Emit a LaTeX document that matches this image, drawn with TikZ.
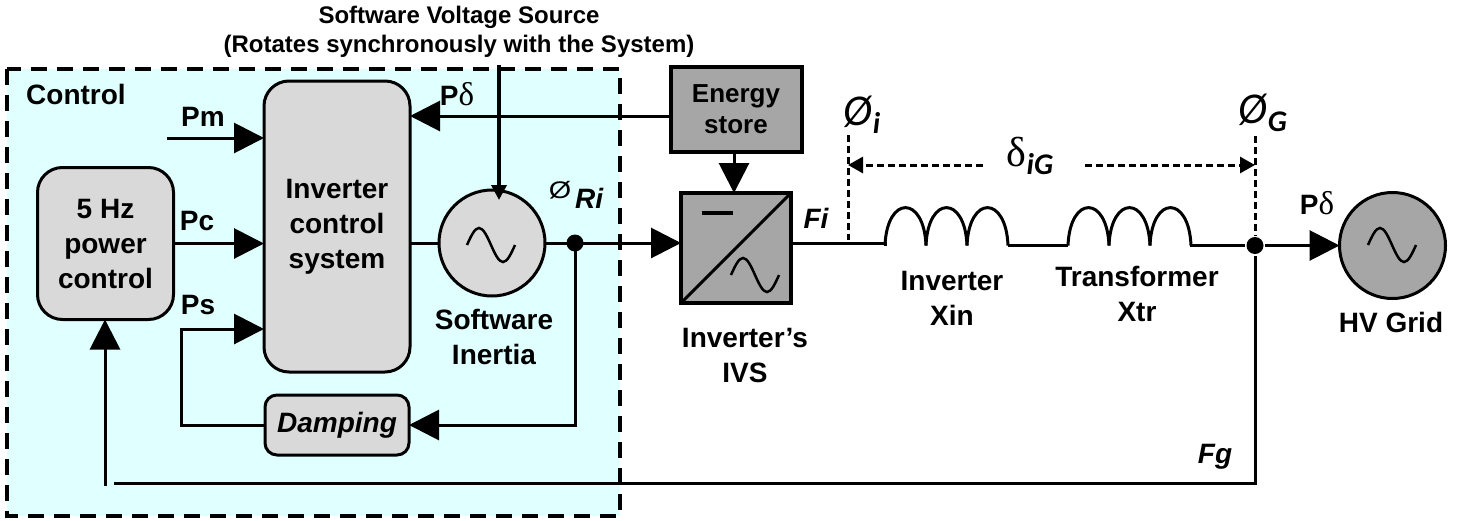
\documentclass[tikz,border=0pt]{standalone}
\usepackage{fontspec}
\usetikzlibrary{arrows.meta}
\setmainfont{Liberation Sans}
\newfontfamily\serifdelta{Liberation Serif}
\newfontfamily\carlito{Carlito}
\newcommand{\pdelta}{P{\serifdelta\fontsize{33}{33}\selectfont\mdseries δ}}
\newcommand{\angsub}[1]{{\carlito\fontsize{44}{44}\selectfont\itshape\mdseries Ø}\raisebox{-8pt}{\carlito\fontsize{30}{30}\selectfont\bfseries\itshape #1}}
\newcommand{\delsub}[1]{{\serifdelta\fontsize{42}{42}\selectfont\mdseries δ}\raisebox{-8pt}{\carlito\fontsize{30}{30}\selectfont\bfseries\itshape #1}}
\begin{document}
\begin{tikzpicture}[x=1pt,y=-1pt,line width=3pt,
        lbl/.style = {font=\fontsize{28}{35}\selectfont\bfseries, align=center, inner sep=0pt},
        block/.style = {draw, fill=black!15, rounded corners=25pt, outer sep=0pt, lbl},
        conv/.style = {draw, fill=black!35, line width=4pt, outer sep=0pt, lbl},
        ac/.style = {draw, circle, minimum size=106pt, inner sep=0pt, outer sep=0pt},
        dot/.style = {circle, fill=black, minimum size=17pt, inner sep=0pt},
        tip/.style = {-{Triangle[length=30pt,width=30pt]}},
        thin tip/.style = {-{Triangle[length=15pt,width=16pt]}},
        ang/.style = {dash pattern=on 7pt off 4pt}]
        \useasboundingbox (0,0) rectangle (1460,520);
        \draw[fill={rgb,255:red,224;green,255;blue,255}, line width=3.5pt, dash pattern=on 16pt off 10pt] (7,69) rectangle (620,516);
        % blocks
        \node[block, minimum width=136pt, minimum height=152pt] (pwr) at (105.5,243.5) {5 Hz\\power\\control};
        \node[block, minimum width=146pt, minimum height=291pt] (ics) at (337,226.5) {Inverter\\control\\system};
        \node[block, rounded corners=12pt, minimum width=144pt, minimum height=60pt, font=\fontsize{28}{35}\selectfont\bfseries\itshape] (damp) [below of=ics, node distance=198.5pt] {Damping};
        \node[ac, fill=black!15] (inertia) at (492,243) {};
        \node[dot] (dot1) [right of=inertia, node distance=83pt] {};
        \node[conv, minimum size=110pt] (ivs) at (736,248) {};
        \node[conv, minimum width=131pt, minimum height=85pt, font=\fontsize{26}{31}\selectfont\bfseries] (store) [above of=ivs, node distance=138.5pt] {Energy\\store};
        \node[dot] (dot2) at (1255,245.5) {};
        \node[ac, fill=black!35] (grid) at (1392.5,245.5) {};
        % free ends
        \coordinate (pmin) at (167,138);
        \coordinate (vsrc) at (499,65);
        \coordinate (vtip) at (499,200);
        \coordinate (fbend) at (105,486);
        \coordinate (fgend) at (114,483);
        \coordinate (fgcorner) at (1255,483);
        \coordinate (a1) at (885,245.5);
        \coordinate (b1) at (1008,245.5);
        \coordinate (a2) at (1068,245.5);
        \coordinate (b2) at (1190,245.5);
        \coordinate (topi) at (848,135);
        \coordinate (basei) at (848,240);
        \coordinate (topg) at (1255,136);
        \coordinate (dli) at (983,165);
        \coordinate (dlg) at (1085,165);
        % sine signs
        \foreach \sx/\sy in {491/245,755/275,1392/245}
                \draw[line width=2.5pt, shift={(\sx,\sy)}] (-24,0) sin (-12,-17) cos (0,0) sin (12,17) cos (24,0);
        % inductors
        \foreach \cx in {885,926,967,1068,1109,1150}
                \draw (\cx,245.5) .. controls (\cx+2,195) and (\cx+39,195) .. (\cx+41,245.5);
        % converter
        \draw (ivs.south west) -- (ivs.north east);
        \draw[line width=4pt] (702,213) -- (733,213);
        % connectors
        \draw[tip] (pmin) -- (pmin -| ics.west);
        \draw[tip] (pwr.east) -- (pwr.east -| ics.west);
        \draw (ics.east |- inertia.west) -- (inertia.west);
        \draw[tip] (inertia.east) -- (inertia.east -| ivs.west);
        \draw[tip] (store.west |- 0,116) -- (ics.east |- 0,116);
        \draw[tip] (dot1.center) |- (damp.east);
        \draw[tip] (damp.west) -| (181,329) -- (ics.west |- 0,329);
        \draw[line width=3.5pt, -{Triangle[length=15pt,width=15pt]}] (vsrc) -- (vtip);
        \draw[tip] (store.south -| 734,0) -- (ivs.north -| 734,0);
        \draw[tip] (fbend) -- (pwr.south -| fbend);
        \draw (fgend) -- (fgcorner) -- (dot2);
        \draw (ivs.east |- 0,243) -- (885,243) -- (a1);
        \draw (b1) -- (a2);
        \draw (b2) -- (dot2);
        \draw[tip] (dot2) -- (grid.west);
        \draw[ang] (topi) -- (basei);
        \draw[ang] (topg) -- (dot2);
        \draw[ang, thin tip] (dli) -- (topi |- dli);
        \draw[ang, thin tip] (dlg) -- (topg |- dlg);
        % labels
        \node[lbl, font=\fontsize{24}{29}\selectfont\bfseries] (title) at (459,32) {Software Voltage Source\\(Rotates synchronously with the System)};
        \node[lbl] (control) at (76,94) {Control};
        \node[lbl] (pm) at (203,117) {Pm};
        \node[lbl] (pc) at (197,221) {Pc};
        \node[lbl] (ps) at (198,305) {Ps};
        \node[lbl] (pd1) at (457,94) {\pdelta};
        \node[lbl] (softin) at (494,337) {Software\\Inertia};
        \node[lbl] (ri) at (576,195) {{\scalebox{1.2}[1]{\fontsize{24}{24}\selectfont\mdseries Ø}}\hspace{4pt}\raisebox{-10pt}{\itshape Ri}};
        \node[lbl, font=\fontsize{28}{35}\selectfont\bfseries\itshape] (fi) at (816,218) {Fi};
        \node[lbl] (ivslbl) at (745,355) {Inverter’s\\IVS};
        \node[lbl] (xin) at (952,298) {Inverter\\Xin};
        \node[lbl] (xtr) at (1137,294) {Transformer\\Xtr};
        \node[lbl] (hv) at (1391,322) {HV Grid};
        \node[lbl] (pd2) at (1317,203) {\pdelta};
        \node[lbl, font=\fontsize{28}{35}\selectfont\bfseries\itshape] (fg) at (1215,457) {Fg};
        \node[lbl] (phii) at (862,115) {\angsub{i}};
        \node[lbl] (phig) at (1263,113) {\angsub{G}};
        \node[lbl] (dig) at (1030,156) {\delsub{iG}};
\end{tikzpicture}
\end{document}
